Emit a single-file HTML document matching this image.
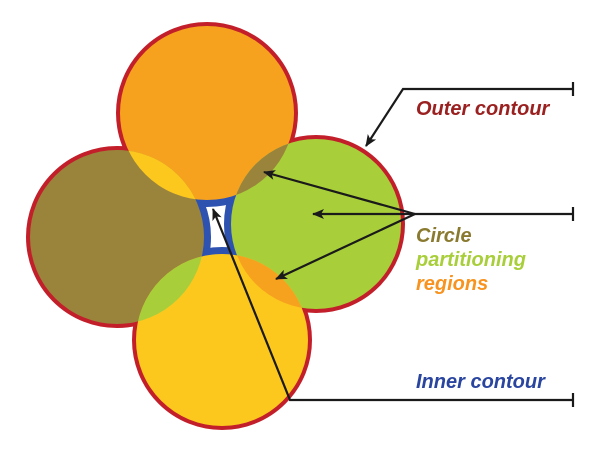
<!DOCTYPE html>
<html><head><style>html,body{margin:0;padding:0;background:#fff}svg{display:block}</style></head><body>
<svg width="600" height="454" viewBox="0 0 600 454" xmlns="http://www.w3.org/2000/svg">
<defs>
<clipPath id="cT"><circle cx="207" cy="113" r="87"/></clipPath>
<clipPath id="cL"><circle cx="117" cy="237" r="87"/></clipPath>
<clipPath id="cR"><circle cx="316" cy="224" r="85"/></clipPath>
<clipPath id="cB"><circle cx="222" cy="340" r="86"/></clipPath>
<clipPath id="hole"><rect x="185" y="185" width="65" height="90"/></clipPath>
<marker id="ar" markerWidth="12" markerHeight="10" refX="11" refY="5" orient="auto" markerUnits="userSpaceOnUse"><path d="M0,0 L12,5 L0,10 L3,5 Z" fill="#1a1a1a"/></marker>
</defs>
<g fill="none" stroke="#c21f2a" stroke-width="8">
<circle cx="207" cy="113" r="87"/><circle cx="117" cy="237" r="87"/><circle cx="316" cy="224" r="85"/><circle cx="222" cy="340" r="86"/>
</g>
<g fill="#fff" stroke="#2d52b0" stroke-width="14" clip-path="url(#hole)">
<rect x="185" y="185" width="65" height="90" stroke="none"/>
<circle cx="207" cy="113" r="87"/><circle cx="117" cy="237" r="87"/><circle cx="316" cy="224" r="85"/><circle cx="222" cy="340" r="86"/>
</g>
<circle cx="207" cy="113" r="87" fill="#f7a21e"/>
<circle cx="117" cy="237" r="87" fill="#9a843c"/>
<circle cx="316" cy="224" r="85" fill="#a8cf3a"/>
<circle cx="222" cy="340" r="86" fill="#fdc81e"/>
<circle cx="207" cy="113" r="87" fill="#fdc81e" clip-path="url(#cL)"/>
<circle cx="207" cy="113" r="87" fill="#9a843c" clip-path="url(#cR)"/>
<circle cx="222" cy="340" r="86" fill="#a8cf3a" clip-path="url(#cL)"/>
<circle cx="222" cy="340" r="86" fill="#f7a21e" clip-path="url(#cR)"/>
<g stroke="#1a1a1a" stroke-width="2.2" fill="none">
<polyline points="573,89 403,89 366,146" marker-end="url(#ar)"/>
<line x1="573" y1="82" x2="573" y2="96"/>
<line x1="573" y1="214" x2="415" y2="214"/>
<line x1="573" y1="207" x2="573" y2="221"/>
<line x1="415" y1="214" x2="313" y2="214" marker-end="url(#ar)"/>
<line x1="415" y1="214" x2="264" y2="172" marker-end="url(#ar)"/>
<line x1="415" y1="214" x2="276" y2="279" marker-end="url(#ar)"/>
<polyline points="573,400 290,400 213,209" marker-end="url(#ar)"/>
<line x1="573" y1="393" x2="573" y2="407"/>
</g>
<g font-family="Liberation Sans, sans-serif" font-style="italic" font-weight="bold" font-size="20">
<text x="416" y="115" fill="#9b2020">Outer contour</text>
<text x="416" y="242" fill="#8a7a30">Circle</text>
<text x="416" y="266" fill="#a8cf3a">partitioning</text>
<text x="416" y="290" fill="#f7931e">regions</text>
<text x="416" y="388" fill="#2a45a0">Inner contour</text>
</g>
</svg>
</body></html>
